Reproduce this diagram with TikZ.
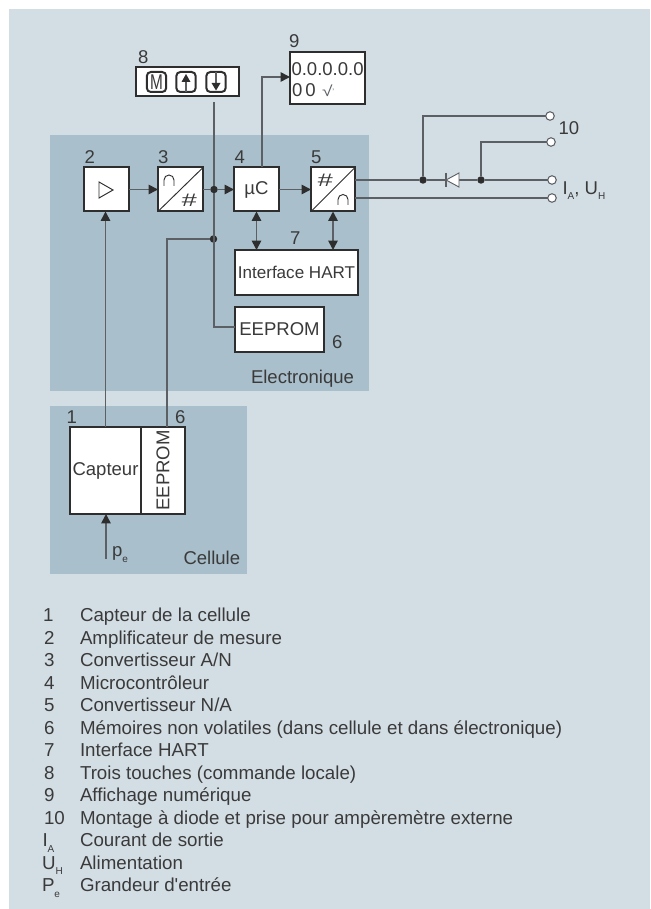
\documentclass[tikz,border=0pt]{standalone}
\usepackage{fontspec}
\setmainfont[Ligatures=TeXOff]{Liberation Sans}
\usetikzlibrary{arrows.meta,calc}
\definecolor{bgc}{HTML}{D3DEE4}
\definecolor{panelc}{HTML}{A9BFCB}
\definecolor{inkc}{HTML}{3A3A3A}
\definecolor{wirec}{HTML}{5C6064}
\definecolor{edgec}{HTML}{2E2E2E}
\newcommand{\subtxt}[1]{\raisebox{-4.2pt}{\fontsize{7.5}{8}\selectfont #1}}
\tikzset{
  mainfont/.style={font=\fontsize{13.9}{16}\selectfont},
  legfont/.style={font=\fontsize{14.05}{16}\selectfont},
  panel/.style={fill=panelc,draw=none},
  boxn/.style 2 args={draw=edgec,fill=white,line width=1.5pt,inner sep=0pt,outer sep=0pt,
    minimum width=#1*0.75pt,minimum height=#2*0.75pt,text=inkc,mainfont},
  lab/.style={anchor=base west,inner sep=0pt,outer sep=0pt,text=inkc,mainfont},
  wire/.style={draw=wirec,line width=1.2pt},
  arr/.style={wire,-{Triangle[length=7pt,width=7pt,color=edgec]}},
  biarr/.style={wire,{Triangle[length=7pt,width=7pt,color=edgec]}-{Triangle[length=7pt,width=7pt,color=edgec]}},
  dot/.style={circle,fill=edgec,draw=none,inner sep=0pt,minimum size=5.6pt,outer sep=0pt},
  term/.style={circle,fill=white,draw=wirec,line width=.8pt,inner sep=0pt,minimum size=6.4pt,outer sep=0pt},
  keyn/.style={draw=edgec,fill=white,line width=1.5pt,rounded corners=3pt,inner sep=0pt,outer sep=0pt,
    minimum width=14.5pt,minimum height=15pt,text=inkc},
  sym/.style={draw=edgec,line width=.7pt},
  hashn/.style={inner sep=0pt,text=inkc,font=\fontsize{17}{18}\selectfont\itshape},
}
\begin{document}
\begin{tikzpicture}[x=0.75pt,y=-0.75pt]
\useasboundingbox (0,0) rectangle (650,909);
\fill[white] (0,0) rectangle (650,909);
\fill[bgc] (9,9) rectangle (650,909);
\path[panel] (50,135) rectangle (369,391);
\path[panel] (50,406) rectangle (247,574);

% boxes
\node[boxn={103}{29}] (keys) at (187.5,81.5) {};
\node[keyn] (keym) at (156.5,82) {\fontsize{16}{16}\selectfont\scalebox{.72}[1]{M}};
\node[keyn] (keyu) at (186,82) {};
\node[keyn] (keyd) at (216,82) {};
\fill[edgec] (186,74) -- (190.5,82) -- (181.5,82) -- cycle;
\draw[wirec,line width=.8pt] (186,82) -- (keyu.south);
\draw[wirec,line width=.8pt] (216,72) -- (216,83);
\fill[edgec] (216,90.5) -- (211.5,83) -- (220.5,83) -- cycle;

\node[boxn={75}{52}] (disp) at (327.5,78) {};
\node[lab] (dtxt1) at (291.5,76) {0.0.0.0.0};
\node[lab] (dtxt2) at (292,96.7) {0\,0};
\node[lab,text=wirec] (dtxt3) at (322,96.7) {\fontsize{11}{12}\selectfont\scalebox{1.3}[1]{√}\raisebox{2pt}{\fontsize{6}{6}\selectfont\char"2019}};

\node[boxn={45}{44}] (amp) at (106.5,189.5) {};
\node[boxn={45}{44}] (adc) at (180.5,189.5) {};
\node[boxn={45}{44}] (mcu) at (256.5,189.5) {µC};
\node[boxn={44}{44}] (dac) at (333,189.5) {};
\node[boxn={123}{45}] (hart) at (296.5,272.5) {\fontsize{12.8}{14}\selectfont Interface HART};
\node[boxn={89}{45}] (eep) at (279.5,329.5) {EEPROM};
\node[boxn={71}{87}] (capt) at (105.5,470.5) {Capteur};
\node[boxn={87}{44},rotate=90] (eec) at (163,470.5) {EEPROM};

% box symbols
\draw[sym,line join=miter] (99,182) -- (113,190) -- (99,198) -- cycle;
\draw[sym] ($(adc.south west)+(1,-1)$) -- ($(adc.north east)+(-1,1)$);
\draw[sym] ($(dac.south west)+(1,-1)$) -- ($(dac.north east)+(-1,1)$);
\draw[sym] (164,186) -- (164,180) arc[start angle=180,end angle=360,x radius=5,y radius=5] -- (174,186);
\draw[sym] (338,205) -- (338,199.5) arc[start angle=180,end angle=360,x radius=5,y radius=5] -- (348,205);
\node[hashn] (hadc) at (189,200.5) {\scalebox{1.2}[.8]{\#}};
\node[hashn] (hdac) at (325,180) {\scalebox{1.2}[.8]{\#}};

% junctions and free ends
\node[dot] (j1) at (214,189.5) {};
\node[dot] (j2) at (213.5,239) {};
\coordinate (bustop) at (214,102);
\coordinate (buscorner) at (214,327);
\coordinate (cwire) at (167,239);
\coordinate (pein) at (106,559);
\coordinate (upbend) at (262,77);
\node[dot] (d1) at (423,180) {};
\node[dot] (d2) at (481,180) {};
\node[term] (t1) at (550,116) {};
\node[term] (t2) at (551,142) {};
\node[term] (t3) at (552,180) {};
\node[term] (t4) at (552,198) {};
\coordinate (dl) at (446,180);
\coordinate (dr) at (459,180);

% connectors
\draw[arr] (amp.east) -- (adc.west);
\draw[wire] (adc.east) -- (j1);
\draw[arr] (j1) -- (mcu.west);
\draw[arr] (mcu.east) -- (dac.west);
\draw[wire] (bustop) -- (j1);
\draw[wire] (j1) -- (buscorner) -- (eep.west |- buscorner);
\draw[wire] (cwire |- eec.east) -- (cwire) -- (j2);
\draw[arr] (capt.north) -- (capt.north |- amp.south);
\draw[arr] (pein) -- (pein |- capt.south);
\draw[arr] (upbend |- mcu.north) -- (upbend) -- (upbend -| disp.west);
\draw[biarr] (mcu.south) -- (mcu.south |- hart.north);
\draw[biarr] (dac.south) -- (dac.south |- hart.north);
\draw[wire] (dac.east |- d1) -- (d1) -- (dl);
\draw[wire] (dr) -- (d2) -- (t3);
\draw[wire] (dac.east |- t4) -- (t4);
\draw[wire] (d1) -- (d1 |- t1) -- (t1);
\draw[wire] (d2) -- (d2 |- t2) -- (t2);
\draw[draw=wirec,fill=white,line width=.7pt,line join=miter] (dl) -- (459,173) -- (459,187) -- cycle;
\draw[wirec,line width=.9pt] (446,173) -- (446,187);

% labels
\node[lab] (n8) at (138,63.5) {8};
\node[lab] (n9) at (289,47.3) {9};
\node[lab] (n2) at (84.5,163.3) {2};
\node[lab] (n3) at (158,163.3) {3};
\node[lab] (n4) at (234.5,163.3) {4};
\node[lab] (n5) at (311,163.3) {5};
\node[lab] (n7) at (290,244) {7};
\node[lab] (n6a) at (332,348.3) {6};
\node[lab] (nelec) at (251,383.3) {Electronique};
\node[lab] (n1) at (66.5,423.3) {1};
\node[lab] (n6b) at (175,423.3) {6};
\node[lab] (ncell) at (183.5,564.3) {Cellule};
\node[lab] (npe) at (112,556.7) {p\subtxt{e}};
\node[lab] (n10) at (558.5,135) {10};
\node[lab] (nout) at (562.5,194.3) {I\subtxt{A}, U\subtxt{H}};

% legend
\foreach \i/\xn/\num/\txt in {
  0/43/1/Capteur de la cellule,
  1/44/2/Amplificateur de mesure,
  2/44/3/Convertisseur A\slash N,
  3/44/4/Microcontrôleur,
  4/44/5/Convertisseur N\slash A,
  5/44/6/Mémoires non volatiles (dans cellule et dans électronique),
  6/44/7/Interface HART,
  7/44/8/Trois touches (commande locale),
  8/44/9/Affichage numérique,
  9/44/10/Montage à diode et prise pour ampèremètre externe,
  10/42.5/I\subtxt{A}/Courant de sortie,
  11/42/U\subtxt{H}/Alimentation,
  12/42/P\subtxt{e}/Grandeur d\char39 entrée}{
  \node[lab,legfont] (ln\i) at (\xn,621.5+22.5*\i) {\num};
  \node[lab,legfont] (lt\i) at (80,621.5+22.5*\i) {\txt};
}
\end{tikzpicture}
\end{document}
